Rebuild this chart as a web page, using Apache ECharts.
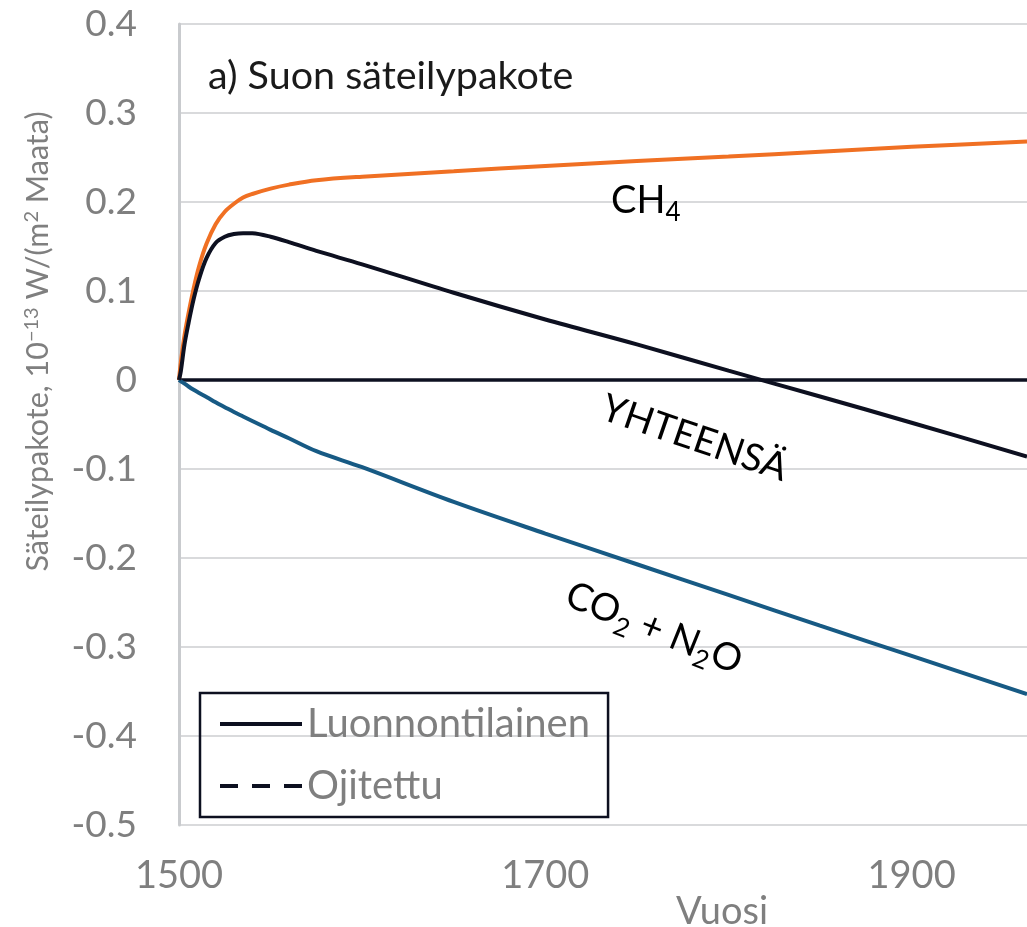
<!DOCTYPE html>
<html>
<head>
<meta charset="utf-8">
<script src="https://cdn.jsdelivr.net/npm/echarts@6/dist/echarts.min.js"></script>
<style>
html,body{margin:0;padding:0;background:#fff;}
#c{width:1027px;height:927px;}
</style>
</head>
<body>
<div id="c"></div>
<script>
// Years (x values)
var years = [1500, 1501, 1503, 1505, 1508, 1511, 1515, 1520, 1525, 1530, 1535, 1540, 1550, 1560, 1575, 1600, 1650, 1700, 1750, 1800, 1850, 1900, 1963];
// CH4 forcing (orange)
var ch4 = [0, 0.02, 0.05, 0.073, 0.103, 0.128, 0.153, 0.175, 0.189, 0.198, 0.205, 0.209, 0.215, 0.2195, 0.2245, 0.2285, 0.2345, 0.2405, 0.246, 0.251, 0.2565, 0.262, 0.268];
// CO2 + N2O forcing (blue)
var co2n2o = [0, -0.0015, -0.004, -0.007, -0.011, -0.0145, -0.019, -0.025, -0.0305, -0.036, -0.041, -0.046, -0.056, -0.0655, -0.080, -0.098, -0.137, -0.1725, -0.207, -0.2415, -0.276, -0.310, -0.353];
// Total (YHTEENSÄ), natural state (black)
var total = [0, 0.01, 0.04, 0.062, 0.091, 0.114, 0.137, 0.154, 0.161, 0.164, 0.165, 0.1648, 0.161, 0.155, 0.145, 0.130, 0.098, 0.068, 0.040, 0.0105, -0.0185, -0.048, -0.086];
// Zero reference line
var zeroYears = [1500, 1963];
var zeroVals = [0, 0];
// Axis settings
var xMin = 1500, xMax = 1963, xStep = 200;
var yMin = -0.5, yMax = 0.4, yStep = 0.1;

function pairs(xs, ys) { return xs.map(function (x, i) { return [x, ys[i]]; }); }

var FONT = 'Lato';
var GRAY = '#7f7f7f';
var BLACK = '#0d1020';
var ORANGE = '#f07023';
var BLUE = '#175a84';
var D = Math.PI / 180;

var chart = echarts.init(document.getElementById('c'), null, { renderer: 'canvas' });

var subRich = {
  m: { fontFamily: FONT, fontSize: 38, lineHeight: 50, color: BLACK },
  s: { fontFamily: FONT, fontSize: 26, lineHeight: 26, padding: [24, 0, 0, 0], color: BLACK }
};

chart.setOption({
  animation: false,
  backgroundColor: '#ffffff',
  grid: { left: 179, top: 24, right: 0, bottom: 102, containLabel: false, outerBoundsMode: 'none' },
  xAxis: {
    type: 'value', min: xMin, max: xMax, interval: xStep,
    name: 'Vuosi', nameLocation: 'middle', nameGap: 68, nameMoveOverlap: false,
    nameTextStyle: { fontFamily: FONT, fontSize: 38, color: GRAY, padding: [0, 0, 0, 238] },
    axisLine: { show: false },
    axisTick: { show: false },
    splitLine: { show: false },
    axisLabel: { margin: 32, fontFamily: FONT, fontSize: 38, color: GRAY, showMaxLabel: false,
      formatter: function (v) { return String(Math.round(v)); } }
  },
  yAxis: {
    type: 'value', min: yMin, max: yMax, interval: yStep,
    name: '{a|Säteilypakote, 10}{p|−13}{a| W/(m}{p|2}{a| Maata)}',
    nameLocation: 'middle', nameGap: 121, nameRotate: 90, nameMoveOverlap: false,
    nameTextStyle: {
      padding: [0, 0, 0, 166],
      rich: {
        a: { fontFamily: FONT, fontSize: 30.5, color: GRAY, lineHeight: 40 },
        p: { fontFamily: FONT, fontSize: 20, color: GRAY, lineHeight: 20, padding: [0, 0, 12, 0] }
      }
    },
    axisLine: { show: true, lineStyle: { color: '#c9cbce', width: 3 } },
    axisTick: { show: false },
    splitLine: { show: true, lineStyle: { color: '#d9dadc', width: 2 } },
    axisLabel: { margin: 42, fontFamily: FONT, fontSize: 37, color: GRAY,
      formatter: function (v) { return Math.abs(v) < 1e-9 ? '0' : v.toFixed(1); } }
  },
  legend: {
    data: ['Luonnontilainen', 'Ojitettu'],
    orient: 'vertical', left: 200, top: 693,
    padding: [8, 18, 8, 18],
    borderColor: BLACK, borderWidth: 2.5, borderRadius: 0,
    itemWidth: 82, itemHeight: 20, itemGap: 16,
    lineStyle: { width: 4 },
    itemStyle: { opacity: 0 },
    textStyle: { fontFamily: FONT, fontSize: 40, color: GRAY, lineHeight: 46 },
    selectedMode: false
  },
  series: [
    { name: 'Nolla', type: 'line', data: pairs(zeroYears, zeroVals), symbol: 'none',
      lineStyle: { color: BLACK, width: 3.5 }, z: 1 },
    { name: 'CH4', type: 'line', data: pairs(years, ch4), symbol: 'none', smooth: 0.35,
      lineStyle: { color: ORANGE, width: 4 }, itemStyle: { color: ORANGE }, z: 3 },
    { name: 'CO2 + N2O', type: 'line', data: pairs(years, co2n2o), symbol: 'none', smooth: 0.35,
      lineStyle: { color: BLUE, width: 4 }, itemStyle: { color: BLUE }, z: 3 },
    { name: 'Luonnontilainen', type: 'line', data: pairs(years, total), symbol: 'none', smooth: 0.35,
      lineStyle: { color: BLACK, width: 4 }, itemStyle: { color: BLACK }, z: 4 },
    { name: 'Ojitettu', type: 'line', data: [], symbol: 'none',
      lineStyle: { color: BLACK, width: 4, type: [18, 14] }, itemStyle: { color: BLACK } }
  ],
  graphic: [
    { type: 'text', x: 208, y: 76, z: 10,
      style: { text: 'a) Suon säteilypakote', fontFamily: FONT, fontSize: 39.5, fill: '#1a1a1a', align: 'left', verticalAlign: 'middle' } },
    { type: 'text', x: 611, y: 176, z: 10,
      style: { text: '{m|CH}{s|4}', rich: subRich, align: 'left', verticalAlign: 'top' } },
    { type: 'text', x: 611, y: 383, rotation: -19 * D, z: 10,
      style: { text: '{m|YHTEENSÄ}', rich: subRich, align: 'left', verticalAlign: 'top' } },
    { type: 'text', x: 577, y: 570, rotation: -22 * D, z: 10,
      style: { text: '{m|CO}{s|2}{m| + N}{s|2}{m|O}', rich: subRich, align: 'left', verticalAlign: 'top' } }
  ]
});
</script>
</body>
</html>
